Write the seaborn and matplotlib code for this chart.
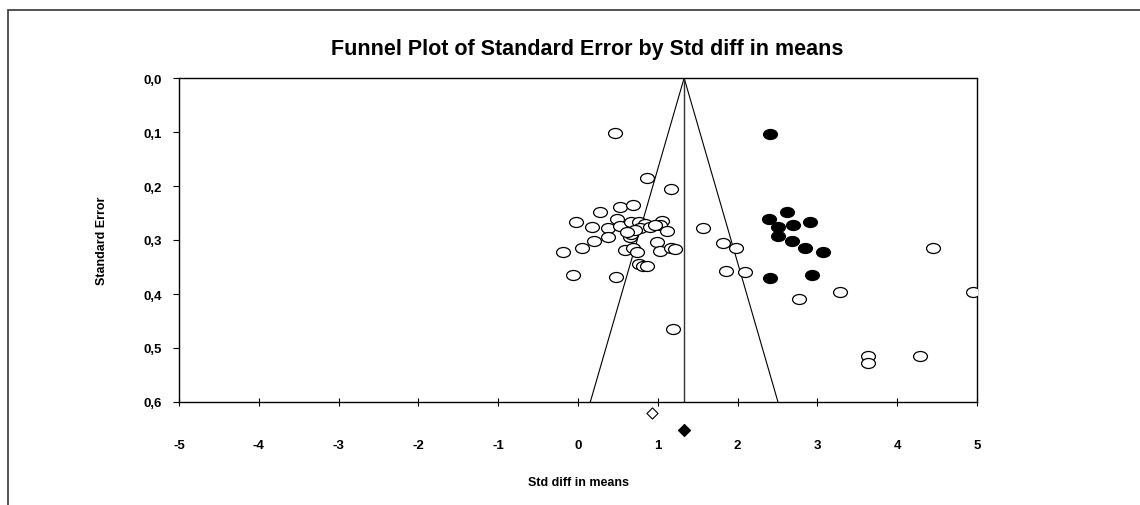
import numpy as np
import matplotlib
matplotlib.use("Agg")
import matplotlib.pyplot as plt
import seaborn as sns
from matplotlib.path import Path
from matplotlib.transforms import Affine2D
from matplotlib.patches import Rectangle

# ============================
# DATA
# ============================
# observed studies (open circles)
obs_diff = [0.46, 0.86, 1.16, 1.57, 1.19, 0.53, 0.69, 0.27, -0.02, 0.18,
            0.38, 0.49, 0.53, 0.67, 0.76, 0.84, 0.78, 0.90, 1.05, 1.03,
            1.11, 0.65, 0.38, 0.20, 0.05, -0.19, 0.59, 0.69, 0.74, 0.99,
            1.03, 1.17, 1.22, 0.76, 0.82, 0.87, -0.06, 0.48, 0.66, 0.71,
            0.96, 0.62,
            1.82, 1.98, 1.85, 2.09, 2.77, 3.28, 4.45, 4.95, 3.63, 3.63, 4.29]
obs_se = [0.102, 0.186, 0.205, 0.278, 0.464, 0.238, 0.235, 0.249, 0.266, 0.275,
          0.277, 0.261, 0.274, 0.267, 0.267, 0.270, 0.278, 0.275, 0.264, 0.273,
          0.283, 0.295, 0.295, 0.301, 0.315, 0.322, 0.318, 0.314, 0.323, 0.304,
          0.320, 0.314, 0.317, 0.344, 0.348, 0.349, 0.365, 0.369, 0.289, 0.281,
          0.272, 0.286,
          0.306, 0.315, 0.358, 0.360, 0.409, 0.396, 0.315, 0.397, 0.514, 0.527, 0.514]

# imputed studies (filled circles)
imp_diff = [2.41, 2.62, 2.39, 2.50, 2.70, 2.91, 2.50, 2.68, 2.84, 3.07, 2.41, 2.93]
imp_se = [0.104, 0.249, 0.261, 0.275, 0.273, 0.267, 0.293, 0.301, 0.315, 0.322, 0.370, 0.365]

observed_mean = 0.93
adjusted_mean = 1.33
diamond_se = [0.620, 0.652]   # drawn under the axis

x_ticks = [-5, -4, -3, -2, -1, 0, 1, 2, 3, 4, 5]
y_ticks = [0.0, 0.1, 0.2, 0.3, 0.4, 0.5, 0.6]
y_labels = ['0,0', '0,1', '0,2', '0,3', '0,4', '0,5', '0,6']

# ============================
# STYLE
# ============================
sns.set_style('white')
plt.rcParams['font.family'] = ['Liberation Sans', 'DejaVu Sans']
plt.rcParams['font.weight'] = 'bold'
plt.rcParams['text.color'] = 'black'
plt.rcParams['axes.labelcolor'] = 'black'
plt.rcParams['xtick.color'] = 'black'
plt.rcParams['ytick.color'] = 'black'

# flattened circle marker
ellipse = Path(Affine2D().scale(1.0, 0.72).transform(Path.unit_circle().vertices),
               Path.unit_circle().codes)

fig = plt.figure(figsize=(11.4, 5.06), dpi=100)
ax = fig.add_axes([179 / 1140, 1 - 403 / 506, 798 / 1140, 324 / 506])

# funnel
se_range = np.array([0.0, 0.6])
ax.plot(adjusted_mean - 1.96 * se_range, se_range, color='black', lw=0.8)
ax.plot(adjusted_mean + 1.96 * se_range, se_range, color='black', lw=0.8)
ax.plot([adjusted_mean, adjusted_mean], se_range, color='#333333', lw=1.0)

sns.scatterplot(x=obs_diff, y=obs_se, marker=ellipse, s=100, facecolor='white',
                edgecolor='black', linewidth=0.9, ax=ax, zorder=3)
sns.scatterplot(x=imp_diff, y=imp_se, marker=ellipse, s=100, color='black',
                edgecolor='black', linewidth=0.9, ax=ax, zorder=4)

# summary diamonds
sns.scatterplot(x=[observed_mean], y=[diamond_se[0]], marker='D', s=32,
                facecolor='white', edgecolor='black', linewidth=0.8,
                ax=ax, clip_on=False, zorder=5)
sns.scatterplot(x=[adjusted_mean], y=[diamond_se[1]], marker='D', s=38,
                color='black', edgecolor='black', linewidth=0.8,
                ax=ax, clip_on=False, zorder=5)

ax.set_xlim(-5, 5)
ax.set_ylim(0.6, 0.0)
ax.set_xticks(x_ticks)
ax.set_xticklabels([str(t) for t in x_ticks], fontsize=9.5, fontweight='bold')
ax.set_yticks(y_ticks)
ax.set_yticklabels(y_labels, fontsize=9.5, fontweight='bold')
ax.tick_params(axis='x', direction='inout', length=6, width=0.8, pad=24, bottom=True)
ax.tick_params(axis='y', direction='out', length=4, width=0.8, pad=8, left=True)

for sp in ax.spines.values():
    sp.set_color('black')
    sp.set_linewidth(1.0)

ax.set_xlabel('Std diff in means', fontsize=9, fontweight='bold', labelpad=18)
ax.set_ylabel('Standard Error', fontsize=9, fontweight='bold', labelpad=26)

fig.text(587 / 1140, 1 - 50 / 506, 'Funnel Plot of Standard Error by Std diff in means',
         ha='center', va='center', fontsize=15.5, fontweight='bold')

# outer frame
fig.patches.append(Rectangle((8 / 1140, -0.1), 1.2, 1.1 - 11 / 506, transform=fig.transFigure,
                             fill=False, edgecolor='#444444', lw=1.3))

fig.savefig('out.png', dpi=100)
